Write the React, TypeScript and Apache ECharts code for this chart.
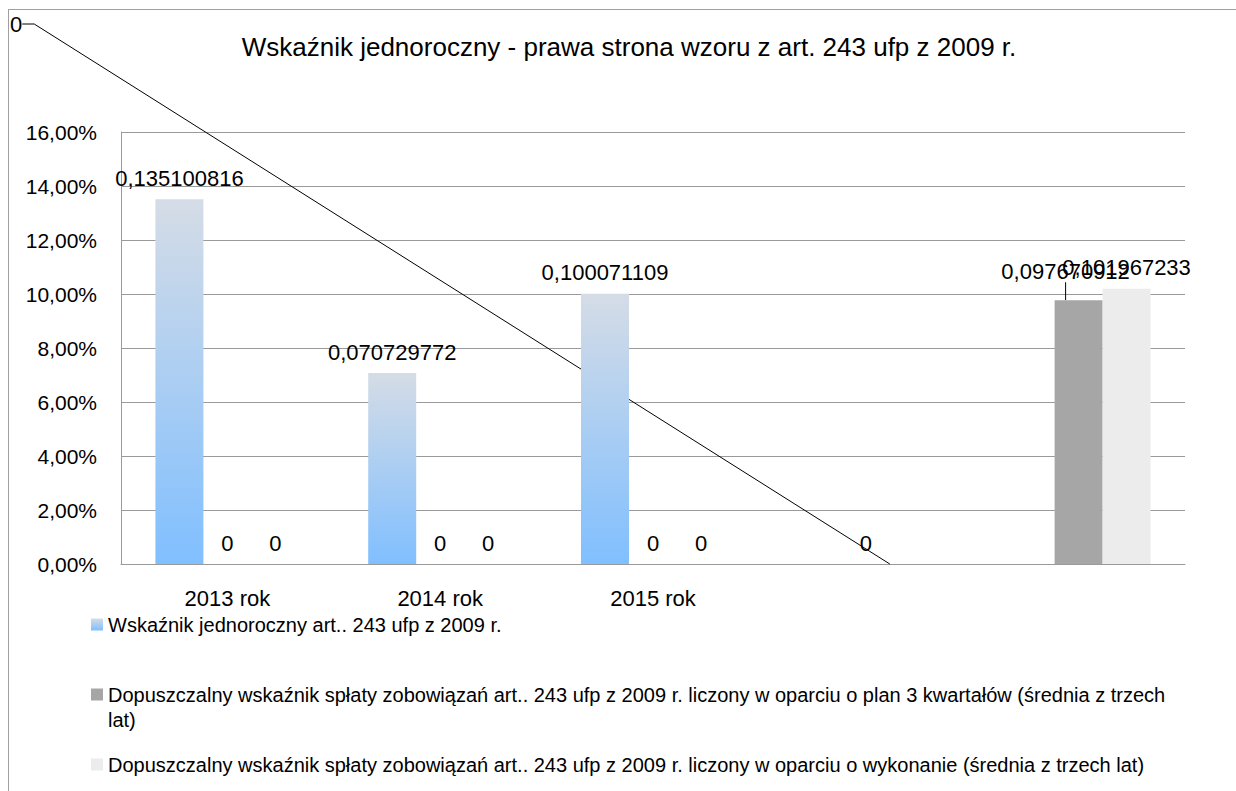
import React, { useEffect, useRef } from "react";
import * as echarts from "echarts";

const titleText = "Wskaźnik jednoroczny - prawa strona wzoru z art. 243 ufp z 2009 r.";
const categories = ["2013 rok", "2014 rok", "2015 rok", "", ""];
const seriesNames = [
  "Wskaźnik jednoroczny art.. 243 ufp z 2009 r.",
  "Dopuszczalny wskaźnik spłaty zobowiązań art.. 243 ufp z 2009 r. liczony w oparciu o plan 3 kwartałów (średnia z trzech lat)",
  "Dopuszczalny wskaźnik spłaty zobowiązań art.. 243 ufp z 2009 r. liczony w oparciu o wykonanie (średnia z trzech lat)",
];
const indicatorValues = [0.135100816, 0.070729772, 0.100071109, null, null];
const planLimitValues = [0, 0, 0, 0, 0.097670912];
const execLimitValues = [0, 0, 0, 0, 0.101967233];
const yMin = 0;
const yMax = 0.16;
const yStep = 0.02;

const FONT = "'Liberation Sans', Arial, Helvetica, sans-serif";

const fmtValue = (v: number) => String(v).replace(".", ",");
const fmtPct = (v: number) => (v * 100).toFixed(2).replace(".", ",") + "%";

export default function App() {
  const ref = useRef<HTMLDivElement>(null);

  useEffect(() => {
    if (!ref.current) return;
    const chart = echarts.init(ref.current, undefined, { renderer: "svg" });

    const labelBase = {
      show: true,
      position: "top" as const,
      distance: 10,
      fontSize: 22,
      fontFamily: FONT,
      color: "#000",
      formatter: (p: any) => fmtValue(p.value),
    };

    const blueGradient = new echarts.graphic.LinearGradient(0, 0, 0, 1, [
      { offset: 0, color: "#d5dce6" },
      { offset: 1, color: "#80bfff" },
    ]);

    const legendText = {
      fontSize: 20,
      fontFamily: FONT,
      color: "#000",
      lineHeight: 25,
    };

    const legendBase = {
      left: 91,
      padding: 0,
      orient: "vertical",
      icon: "rect",
      itemWidth: 12,
      itemHeight: 12,
      itemGap: 6,
      selectedMode: false,
      textStyle: legendText,
    };

    const option: any = {
      animation: false,
      backgroundColor: "#fff",
      title: {
        text: titleText,
        left: 629,
        top: 34,
        textAlign: "center",
        padding: 0,
        textStyle: { fontSize: 26, fontWeight: "normal", fontFamily: FONT, color: "#000" },
      },
      grid: { left: 121, right: 51, top: 132, bottom: 227, containLabel: false },
      legend: [
        { ...legendBase, data: [seriesNames[0]], top: 612 },
        {
          ...legendBase,
          data: [seriesNames[1]],
          top: 657,
          formatter: (name: string) => "\n" + name.replace(" lat)", "\nlat)"),
        },
        { ...legendBase, data: [seriesNames[2]], top: 752 },
      ],
      xAxis: {
        type: "category",
        data: categories,
        axisTick: { show: false },
        axisLine: { show: true, lineStyle: { color: "#9a9a9a", width: 1 } },
        axisLabel: { fontSize: 22, fontFamily: FONT, color: "#000", margin: 23 },
      },
      yAxis: {
        type: "value",
        min: yMin,
        max: yMax,
        interval: yStep,
        axisLine: { show: true, lineStyle: { color: "#9a9a9a", width: 1 } },
        axisTick: { show: false },
        splitLine: { show: true, lineStyle: { color: "#9a9a9a", width: 1 } },
        axisLabel: {
          fontSize: 21,
          fontFamily: FONT,
          color: "#000",
          margin: 24,
          formatter: (v: number) => fmtPct(v),
        },
      },
      series: [
        {
          name: seriesNames[0],
          type: "bar",
          data: indicatorValues,
          barWidth: 48,
          barGap: "0%",
          itemStyle: { color: blueGradient },
          label: labelBase,
        },
        {
          name: seriesNames[1],
          type: "bar",
          data: planLimitValues.map((v, i) =>
            i === 4
              ? { value: v, labelLine: { show: true, length2: 0, lineStyle: { color: "#000", width: 1 } } }
              : v
          ),
          barWidth: 48,
          barGap: "0%",
          itemStyle: { color: "#a6a6a6" },
          label: labelBase,
          labelLayout: (p: any) => (p.dataIndex === 4 ? { dx: -13, dy: -8 } : {}),
        },
        {
          name: seriesNames[2],
          type: "bar",
          data: execLimitValues.map((v, i) =>
            i === 3
              ? { value: v, labelLine: { show: true, length2: 12, lineStyle: { color: "#000", width: 1 } } }
              : v
          ),
          barWidth: 48,
          barGap: "0%",
          itemStyle: { color: "#ececec" },
          label: labelBase,
          labelLayout: (p: any) =>
            p.dataIndex === 3 ? { x: 10, y: 24, align: "left", verticalAlign: "middle" } : {},
        },
      ],
      graphic: [
        { type: "line", shape: { x1: 8.5, y1: 9, x2: 8.5, y2: 791 }, style: { stroke: "#a0a0a0", lineWidth: 1 }, silent: true },
        { type: "line", shape: { x1: 8, y1: 9.5, x2: 1236, y2: 9.5 }, style: { stroke: "#a0a0a0", lineWidth: 1 }, silent: true },
      ],
    };

    chart.setOption(option);
    return () => chart.dispose();
  }, []);

  return (
    <div
      ref={ref}
      style={{ position: "fixed", left: 0, top: 0, width: 1236, height: 791, background: "#fff" }}
    />
  );
}
